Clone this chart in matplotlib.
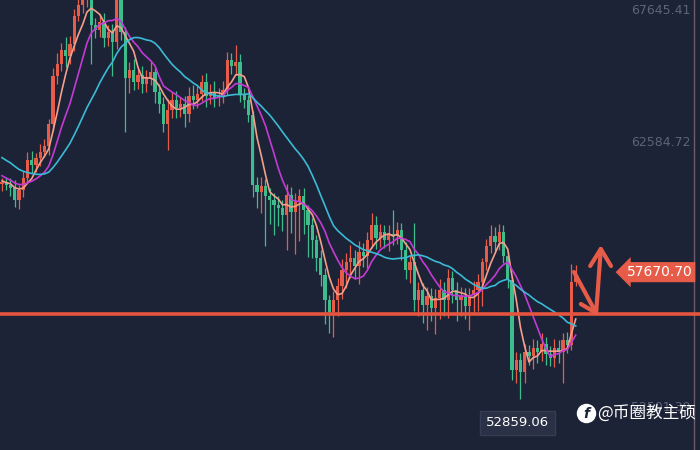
import numpy as np
import matplotlib
matplotlib.use("Agg")
import matplotlib.pyplot as plt
from matplotlib.patches import Rectangle
from matplotlib.transforms import blended_transform_factory

# candles left of the visible window, only used to warm up the moving averages
early_close = [62889, 63080, 62775, 63003, 63156, 62699, 62851, 62509, 62623, 62319,
               62128, 61938, 61634, 61481, 61367, 61253, 61329, 61101, 61177, 61025]

# visible candles (open = previous close)
close = [61101, 60987, 60873, 60416, 60797, 61253, 61938, 61748, 62014, 62242,
         62471, 63308, 65134, 65591, 66124, 65895, 66352, 67417, 67836, 68026,
         68216, 67075, 66885, 67189, 66580, 66808, 66428, 68216, 66808, 65058,
         65363, 64906, 65172, 64830, 65058, 65286, 64525, 64069, 63308, 63841,
         64221, 63917, 64069, 63688, 64373, 64221, 64449, 64906, 64373, 64525,
         64297, 64373, 64602, 65743, 65515, 65667, 64411, 64221, 63650, 60987,
         60720, 60949, 60568, 60416, 60226, 60112, 59845, 60606, 59959, 60340,
         60568, 60036, 59465, 58894, 58209, 57562, 56611, 56154, 56611, 57144,
         57753, 58057, 58209, 57905, 58437, 58285, 58894, 59465, 58970, 59198,
         58894, 59122, 59046, 59275, 58514, 57753, 58057, 56611, 56992, 56421,
         56763, 56307, 56687, 56992, 56611, 57448, 56992, 56611, 56763, 56383,
         56801, 56992, 57296, 58057, 58666, 59046, 58818, 59198, 58285, 57372,
         53948, 54328, 53871, 54632, 54480, 54785, 54632, 54937, 54556, 54404,
         54785, 54632, 55089, 54899, 57296, 57524]

upper_wick = [150, 200, 250, 300, 200, 250, 300, 350, 200, 300,
              250, 200, 300, 400, 250, 500, 300, 250, 300, 400,
              300, 200, 250, 300, 350, 250, 300, 300, 250, 200,
              300, 400, 250, 350, 300, 400, 200, 300, 250, 400,
              300, 350, 250, 300, 350, 400, 300, 250, 350, 300,
              400, 300, 350, 300, 250, 650, 300, 250, 200, 150,
              300, 350, 250, 300, 250, 350, 300, 400, 300, 350,
              250, 300, 200, 250, 200, 300, 250, 200, 350, 300,
              400, 350, 500, 300, 400, 350, 300, 450, 350, 300,
              250, 350, 900, 300, 250, 300, 250, 1500, 300, 250,
              350, 300, 350, 400, 300, 350, 250, 300, 350, 300,
              250, 350, 300, 150, 250, 400, 350, 300, 250, 200,
              150, 300, 250, 300, 250, 350, 300, 400, 250, 300,
              350, 300, 250, 300, 700, 400]

lower_wick = [250, 200, 300, 270, 350, 250, 200, 300, 250, 300,
              200, 350, 250, 300, 250, 400, 300, 250, 200, 300,
              250, 1500, 300, 250, 350, 300, 1300, 250, 300, 2050,
              570, 300, 250, 350, 300, 250, 400, 350, 300, 990,
              300, 400, 350, 500, 300, 350, 300, 250, 400, 300,
              350, 300, 250, 200, 300, 350, 250, 300, 250, 450,
              600, 800, 1900, 900, 1140, 700, 600, 1330, 800, 1600,
              1500, 900, 1200, 700, 500, 400, 900, 800, 950, 600,
              500, 700, 600, 500, 700, 400, 500, 300, 400, 350,
              300, 400, 350, 300, 400, 350, 500, 400, 600, 700,
              950, 500, 1000, 800, 600, 700, 500, 800, 600, 500,
              900, 700, 800, 900, 300, 250, 350, 300, 250, 300,
              400, 500, 1012, 400, 350, 500, 400, 350, 400, 300,
              350, 400, 1180, 300, 200, 150]

ma_windows = [5, 10, 20]
ma_colors = ["#f2a08c", "#c43ad4", "#3bbad6"]

price_ticks = [67645.41, 62584.72, 52501.39]
support_price = 56080
last_price = 57670.70
low_price = 52859.06

# hand drawn zigzag arrow (candle index, price)
arrow_x = [134.6, 139.8, 140.9]
arrow_y = [57676, 56116, 58552]
head_bottom_x = [136.2, 139.8]
head_bottom_y = [56459, 56116]
head_top_x = [138.4, 140.9, 143.3]
head_top_y = [57905, 58552, 57905]

BG = "#1d2336"
UP = "#e65c48"
DOWN = "#3dbd8b"


def moving_average(values, n):
    values = np.asarray(values, dtype=float)
    out = np.convolve(values, np.ones(n) / n, mode="valid")
    return np.concatenate([np.full(n - 1, np.nan), out])


def draw_candles(ax, opens, closes, highs, lows):
    for i in range(len(closes)):
        o, c = opens[i], closes[i]
        col = UP if c >= o else DOWN
        ax.vlines(i, lows[i], highs[i], color=col, linewidth=0.9, zorder=2)
        body = max(abs(c - o), 40)
        ax.add_patch(Rectangle((i - 0.36, min(o, c)), 0.72, body,
                               facecolor=col, edgecolor="none", zorder=3))


def main():
    closes = np.array(close, dtype=float)
    opens = np.concatenate([[early_close[-1]], closes[:-1]])
    highs = np.maximum(opens, closes) + np.array(upper_wick)
    lows = np.minimum(opens, closes) - np.array(lower_wick)

    fig = plt.figure(figsize=(7, 4.5), dpi=100, facecolor=BG)
    ax = fig.add_axes([0, 0, 1, 1])
    ax.set_facecolor(BG)
    ax.set_axis_off()
    ax.set_xlim(-0.47, 164.24)
    ax.set_ylim(50903, 68026)

    draw_candles(ax, opens, closes, highs, lows)

    full = list(early_close) + list(close)
    idx = np.arange(len(close))
    for n, col in zip(ma_windows, ma_colors):
        ma = moving_average(full, n)[len(early_close):]
        ax.plot(idx, ma, color=col, linewidth=1.2, zorder=4)

    ax.axhline(support_price, color="#e4543e", linewidth=2.6, zorder=5)

    ax.plot(arrow_x, arrow_y, color=UP, linewidth=3, solid_capstyle="round",
            solid_joinstyle="round", zorder=6)
    ax.plot(head_bottom_x, head_bottom_y, color=UP, linewidth=3,
            solid_capstyle="round", zorder=6)
    ax.plot(head_top_x, head_top_y, color=UP, linewidth=3,
            solid_capstyle="round", solid_joinstyle="round", zorder=6)

    ty = blended_transform_factory(ax.transAxes, ax.transData)
    for p in price_ticks:
        ax.text(0.986, p, f"{p:.2f}", transform=ty, ha="right", va="center",
                fontsize=9, color="#5d6478", zorder=1)
    ax.axvline(162.8, color="#6e5c68", linewidth=1, zorder=1)

    ax.text(0.942, last_price, f"{last_price:.2f}", transform=ty, ha="center",
            va="center", fontsize=10, color="white", zorder=8,
            bbox=dict(boxstyle="larrow,pad=0.22", fc=UP, ec="none"))

    tx = blended_transform_factory(ax.transData, ax.transAxes)
    low_i = int(np.argmin(lows))
    ax.text(low_i - 0.6, 0.06, f"{low_price:.2f}", transform=tx, ha="center",
            va="center", fontsize=9.5, color="white", zorder=8,
            bbox=dict(boxstyle="square,pad=0.45", fc="#2a3146", ec="#353d55"))

    # watermark
    ax.plot([0.837], [0.082], marker="o", markersize=13, color="white",
            transform=ax.transAxes, zorder=9)
    ax.text(0.838, 0.080, "f", transform=ax.transAxes, ha="center", va="center",
            fontsize=10, fontweight="bold", fontstyle="italic", color=BG, zorder=10)
    ax.text(0.853, 0.082, "@币圈教主硕", transform=ax.transAxes, ha="left",
            va="center", fontsize=12, color="white", zorder=9,
            family=["Noto Sans CJK SC", "DejaVu Sans"])

    fig.savefig("out.png", dpi=100, facecolor=BG)


if __name__ == "__main__":
    main()
